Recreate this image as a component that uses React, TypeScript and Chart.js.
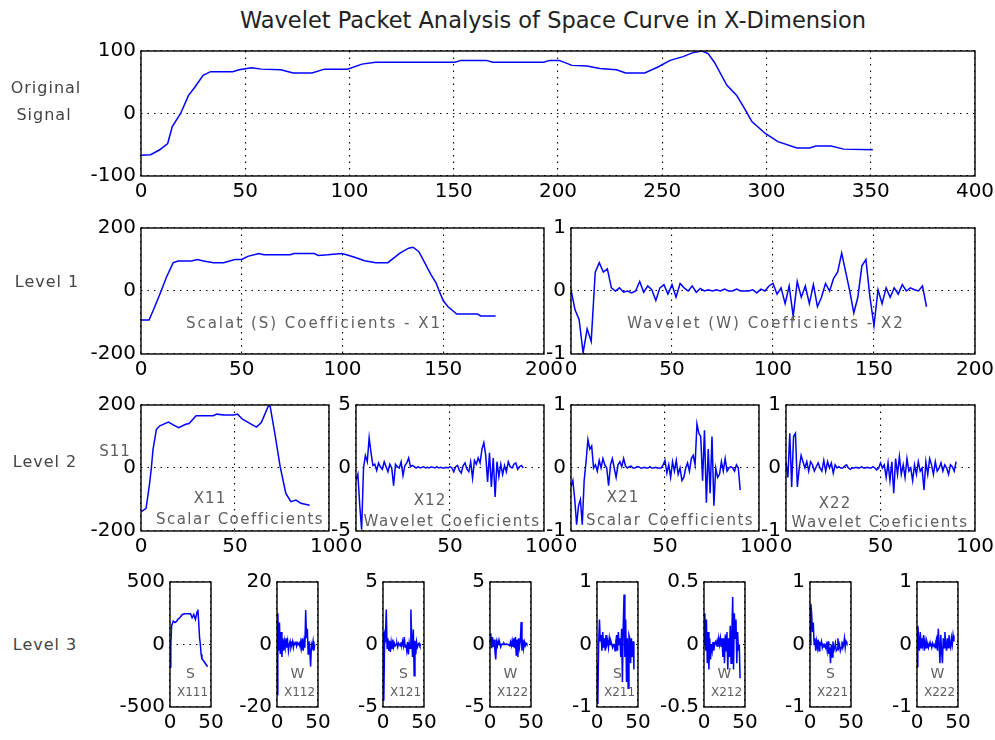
import React, { useEffect, useRef } from "react";
import { Chart, registerables } from "chart.js";
Chart.register(...registerables);

// ---------------- DATA ----------------
// Original signal (sample index, value)
const origX = [0, 4.6, 9, 12.8, 15, 19, 22.8, 25.8, 29.8, 33.4, 44, 47, 53, 57.8, 67, 73, 82, 88, 99, 106, 112.5, 150.5, 153.5, 165.6, 168.7, 193, 196, 200.6, 206.7, 214, 220, 228, 232.5, 241.6, 247.7, 253.8, 260, 264.4, 269, 272, 275, 281, 285.7, 290, 293, 299.4, 305.5, 314.6, 320.7, 323.7, 331, 337, 351];
const origY = [-67, -66, -58, -48, -21, 0, 29, 42, 61, 67, 67, 70, 73, 71, 70, 65, 65, 71, 71, 79, 82, 82, 85, 85, 82, 82, 85, 85, 77, 76, 72, 70, 65, 65, 74, 85, 91, 97, 100, 96, 82, 45, 29, 5, -13, -32, -45, -55, -55, -52, -52, -57, -58];

// Level 1 scalar coefficients X1
const s1X = [0, 4, 6.5, 10, 12.5, 16, 18.5, 25, 28, 31, 36, 41, 46.6, 50, 53, 58.5, 61, 74, 76, 86, 88, 92.7, 99.5, 102, 106, 111, 116.5, 122.5, 128.5, 132.8, 135, 137.9, 140.4, 143.9, 146.4, 148, 150, 152.4, 156.7, 167, 168.6, 176];
const s1Y = [-92, -92, -55, 0, 42, 90, 95, 95, 100, 95, 90, 90, 100, 100, 110, 119, 115, 115, 119, 119, 113, 115, 119, 115, 107, 96, 90, 90, 120, 136, 139, 125, 95, 52, 26, 0, -31, -50, -73, -73, -79, -79];

// Level 1 wavelet coefficients X2 (every 2nd sample)
const w1Step = 2;
const w1Y = [0.02, -0.3, -0.45, -0.98, -0.6, -0.8, 0.3, 0.45, 0.3, 0.35,
  0.05, 0.0, 0.05, -0.02, 0.0, -0.03, 0.0, 0.15, -0.02, 0.08,
  0.02, -0.15, 0.05, 0.1, -0.05, 0.1, -0.1, 0.12, 0.05, 0.0,
  0.08, -0.02, 0.04, 0.0, 0.02, 0.0, 0.02, 0.0, 0.03, 0.0,
  0.0, 0.03, 0.0, 0.0, 0.0, 0.02, -0.03, 0.03, 0.0, 0.08,
  0.12, -0.05, 0.05, -0.2, 0.08, -0.4, 0.15, -0.1, 0.08, -0.2,
  0.1, -0.25, -0.1, 0.12, 0.0, 0.2, 0.3, 0.6, 0.3, 0.0,
  -0.35, -0.1, 0.4, 0.5, -0.1, -0.55, 0.02, -0.2, 0.05, -0.1,
  0.05, -0.05, 0.1, 0.0, 0.05, 0.02, 0.0, 0.08, -0.25];

// Level 2
const x11X = [0, 2.7, 4.6, 5.5, 6.4, 8.2, 10, 14.6, 17.4, 20, 23.8, 25.6, 29.3, 38.5, 40.3, 44, 49.5, 51.3, 54, 58.6, 61.4, 64, 67.8, 68.7, 71.4, 74, 77, 79.7, 82.4, 85, 89.7];
const x11Y = [-139, -128, -48, 0, 59, 123, 134, 146, 136, 128, 139, 141, 166, 166, 171, 168, 168, 171, 155, 139, 130, 144, 198, 196, 102, 5, -80, -107, -102, -112, -118];
const x12Y = [-1, -0.5, -3, -4.9, 0, 1, 0.5, 2.4, 1.2, 0.2, 0.3, -0.2, 0.4, 0.1, -0.1, 0.5, 0.1, -0.3, 0.3, 0.0,
  -1.4, 0.3, 0.1, 0, 0.5, -0.6, 0.2, 0.4, 0.8, 0.1, 0.2, 0.1, 0.0, 0.1, 0.0, 0.05, 0.1, 0.0, 0.05, 0.0,
  0.1, 0.05, 0.0, 0.1, 0.0, 0.05, 0.0, 0.0, 0.05, 0.0, 0.1, 0.0, -0.3, 0.1, 0.2, -0.2, -0.4, 0.2, 0.4, -0.1,
  -0.3, 0.5, -0.8, 0.6, 0.3, 0.8, 0.4, 1.5, 2.0, 1.0, -1.1, 1.2, -1.5, 0.8, -2.3, 0.5, -0.7, 0.3, -0.5, 0.2,
  -0.3, 0.5, 0.1, 0.0, 0.3, 0.4, -0.1, 0.1, 0.2, 0.0];
const x21Y = [-0.3, -0.2, -0.5, -0.9, -0.6, -0.5, -0.9, -0.2, 0.1, 0.45, 0.3, 0.35, 0.0, 0.05, -0.05, 0.12, 0.0, 0.15, 0.05, 0.0,
  -0.28, 0.05, 0.15, 0.0, -0.15, 0.05, 0.1, 0.02, 0.15, 0.03, 0.0, 0.02, 0.03, 0.0, 0.0, 0.02, 0.02, 0.0, 0.0, 0.01,
  0.0, 0.0, 0.02, 0.0, 0.0, 0.01, 0.0, 0.0, 0.0, 0.05, 0.12, -0.08, 0.05, -0.15, 0.1, -0.05, 0.12, -0.1, 0.0, -0.2,
  -0.15, 0.0, 0.08, -0.05, 0.15, 0.2, 0.05, 0.7, 0.55, 0.5, -0.2, 0.6, -0.55, 0.3, -0.4, 0.5, -0.6, 0.0, -0.15, -0.1,
  0.1, -0.05, 0.15, -0.05, 0.0, 0.02, 0.0, -0.05, 0.05, 0.0, -0.35];
const x22Y = [0.1, -0.15, 0.55, -0.3, 0.5, 0.55, -0.3, 0.0, 0.2, 0.1, 0.0, 0.1, -0.05, 0.1, 0.05, -0.05, 0.02, 0.08, 0.0, -0.05,
  0.12, -0.05, 0.1, 0.0, 0.08, -0.08, 0.05, 0.0, 0.02, 0.0, 0.0, 0.03, 0.05, 0.0, -0.02, 0.0, 0.0, 0.01, 0.0, 0.0,
  0.02, 0.0, 0.0, 0.01, 0.0, 0.0, 0.02, 0.0, -0.03, 0.0, 0.08, 0.0, 0.05, -0.15, 0.08, -0.2, 0.1, -0.4, 0.15, -0.1,
  0.18, -0.1, 0.05, -0.15, 0.15, -0.05, 0.0, -0.2, 0.05, -0.1, 0.1, -0.05, 0.0, -0.35, 0.1, -0.1, 0.15, 0.05, -0.1, 0.1,
  -0.05, 0.0, 0.08, -0.05, 0.05, 0.0, -0.1, 0.05, 0.02, -0.05, 0.1];

// Level 3
const x111X = [0, 1, 2, 4, 6, 8, 10, 12, 15, 18, 22, 25, 27, 29, 31, 33, 34, 35, 36, 37, 38, 39, 41, 43, 45, 46];
const x111Y = [-180, 0, 150, 188, 175, 185, 205, 214, 240, 246, 246, 246, 214, 240, 201, 260, 280, 180, 60, 0, -80, -116, -130, -150, -170, -177];
const x112Y = [-16, 10, -2, 7, -3, 4, -4, 2, -2, 1, -1, 2, -1, 1, -2, 0, 1, -1, 0, 1, -1, 0.5, 0, 1, -0.5, 0.5, 0, 0.5, -0.5, 1, -1, 2, -2, 1, -1, 11, 2, 5, -3, 1, -2, -7, 0, -1, 1, -2, 0];
const x121Y = [1, -4.5, 0.8, 0.5, 2.8, -0.3, 0.5, -0.5, 0.3, -0.6, 0.2, -0.3, 0.4, -0.2, 0.1, -0.1, 0.0, 0.1, -0.2, 0.1, 0.0, -0.1, 0.1, 0.0, 0.3, -0.1, 0.6, -0.2, 0.0, -0.5, 0.2, -0.8, 0.1, -0.3, 2.8, 0.5, -1.0, 1.2, -2.5, 0.3, -0.8, 0.2, -0.2, 0.0, 0.1, -0.1, 0.0];
const x122Y = [0.2, 0.9, -0.3, 0.6, -0.2, 0.4, -0.5, -1.2, 0.2, -0.1, 0.3, 0.0, 0.1, -0.2, 0.0, 0.05, 0.0, 0.1, 0.0, 0.0, 0.05, 0.0, 0.0, 0.0, -0.1, 0.2, -0.1, 0.3, -0.2, 0.5, -0.3, 0.6, -0.9, 0.4, -1.0, 0.5, -0.2, 0.3, 1.8, -0.5, 0.4, -0.3, 0.2, -0.1, 0.1, 0.0];
const x211Y = [-0.3, -0.95, 0.0, 0.4, 0.05, 0.15, -0.1, 0.2, -0.05, 0.1, -0.1, 0.15, 0.0, 0.05, -0.05, 0.1, 0.0, 0.05, 0.0, -0.05, 0.0, 0.0, -0.1, 0.05, 0.15, -0.1, 0.2, 0.0, 0.1, -0.2, 0.25, -0.6, 0.3, 0.8, -0.2, 0.4, -0.6, 0.1, -0.7, 0.15, 0.1, -0.3, 0.1, -0.2, 0.05, -0.4];
const x212Y = [0.0, 0.25, -0.05, 0.2, -0.15, 0.1, -0.2, 0.05, -0.12, 0.0, -0.05, 0.02, -0.05, 0.0, 0.02, 0.0, 0.03, -0.02, 0.05, 0.0, 0.05, -0.02, 0.05, -0.1, 0.05, -0.15, 0.08, -0.05, 0.1, -0.2, 0.05, -0.1, 0.15, -0.15, 0.1, 0.38, -0.2, 0.25, 0.05, 0.2, -0.15, 0.1, -0.05, 0.0, -0.27];
const x221Y = [0.0, 0.65, 0.5, 0.2, 0.35, 0.0, 0.1, -0.1, 0.05, -0.05, 0.08, -0.1, 0.02, 0.0, 0.05, -0.05, 0.0, -0.02, 0.0, -0.05, 0.0, -0.1, 0.05, -0.15, -0.05, -0.3, 0.0, -0.2, 0.05, -0.1, -0.05, 0.02, -0.1, -0.08, 0.1, -0.05, 0.0, -0.1, -0.05, 0.05, -0.05, 0.0, 0.1, -0.05, 0.05, 0.02];
const x222Y = [-0.35, 0.3, 0.1, -0.1, 0.2, -0.05, 0.1, 0.0, 0.15, -0.1, 0.05, -0.05, 0.05, 0.0, -0.05, 0.02, -0.02, 0.0, -0.05, 0.02, -0.02, 0.0, -0.05, 0.05, 0.1, -0.1, 0.25, 0.0, -0.3, 0.15, -0.1, -0.3, 0.1, -0.05, 0.2, 0.0, -0.1, 0.1, -0.05, 0.15, 0.0, -0.05, 0.1, 0.0, 0.15, 0.05];

const idx = (arr: number[], step = 1) => arr.map((_, i) => i * step);

// ---------------- LAYOUT ----------------
const PL = 70, PR = 30, PT = 16, PB = 36;
const TICK_FONT = '"DejaVu Sans", sans-serif';
const TICK_SIZE = 20;

type Spec = { box: [number, number, number, number]; xMax: number; xStep: number; yMax: number; xs: number[]; ys: number[] };

const L3_LEFTS = [170, 277, 383, 490, 597, 704, 810, 917];
const L3_W = 41;
const l3 = (i: number, yMax: number, xs: number[], ys: number[]): Spec => ({
  box: [L3_LEFTS[i], 581, L3_LEFTS[i] + L3_W, 707], xMax: 50, xStep: 50, yMax, xs, ys,
});

const SPECS: Spec[] = [
  { box: [141, 50, 975, 176], xMax: 400, xStep: 50, yMax: 100, xs: origX, ys: origY },
  { box: [141, 227, 544, 354], xMax: 200, xStep: 50, yMax: 200, xs: s1X, ys: s1Y },
  { box: [571, 227, 975, 354], xMax: 200, xStep: 50, yMax: 1, xs: idx(w1Y, w1Step), ys: w1Y },
  { box: [141, 404, 329, 531], xMax: 100, xStep: 50, yMax: 200, xs: x11X, ys: x11Y },
  { box: [356, 404, 544, 531], xMax: 100, xStep: 50, yMax: 5, xs: idx(x12Y), ys: x12Y },
  { box: [571, 404, 759, 531], xMax: 100, xStep: 50, yMax: 1, xs: idx(x21Y), ys: x21Y },
  { box: [786, 404, 975, 531], xMax: 100, xStep: 50, yMax: 1, xs: idx(x22Y), ys: x22Y },
  l3(0, 500, x111X, x111Y),
  l3(1, 20, idx(x112Y), x112Y),
  l3(2, 5, idx(x121Y), x121Y),
  l3(3, 5, idx(x122Y), x122Y),
  l3(4, 1, idx(x211Y), x211Y),
  l3(5, 0.5, idx(x212Y), x212Y),
  l3(6, 1, idx(x221Y), x221Y),
  l3(7, 1, idx(x222Y), x222Y),
];

type Lbl = { text: string; cx: number; cy: number; size: number; color: string; ls?: number };
const GRAY = "#5e5e5e";
const SIDE = "#444";
const LABELS: Lbl[] = [
  { text: "Wavelet Packet Analysis of Space Curve in X-Dimension", cx: 553, cy: 20, size: 22.5, color: "#222" },
  { text: "Original", cx: 46, cy: 88, size: 16, color: SIDE, ls: 1 },
  { text: "Signal", cx: 44, cy: 115, size: 16, color: SIDE, ls: 1 },
  { text: "Level 1", cx: 47, cy: 282, size: 16, color: SIDE, ls: 1 },
  { text: "Level 2", cx: 45, cy: 462, size: 16, color: SIDE, ls: 1 },
  { text: "Level 3", cx: 45, cy: 645, size: 16, color: SIDE, ls: 1 },
  { text: "Scalat (S) Coefficients - X1", cx: 314, cy: 323, size: 15, color: GRAY, ls: 2 },
  { text: "Wavelet (W) Coefficients - X2", cx: 766, cy: 323, size: 15, color: GRAY, ls: 2 },
  { text: "S11", cx: 115, cy: 451, size: 15, color: GRAY, ls: 1 },
  { text: "X11", cx: 210, cy: 498, size: 15, color: GRAY, ls: 1 },
  { text: "Scalar Coefficients", cx: 240, cy: 519, size: 15, color: GRAY, ls: 1.5 },
  { text: "X12", cx: 430, cy: 500, size: 15, color: GRAY, ls: 1 },
  { text: "Wavelet Coeficients", cx: 452, cy: 521, size: 15, color: GRAY, ls: 1.5 },
  { text: "X21", cx: 623, cy: 497, size: 15, color: GRAY, ls: 1 },
  { text: "Scalar Coefficients", cx: 670, cy: 520, size: 15, color: GRAY, ls: 1.5 },
  { text: "X22", cx: 835, cy: 503, size: 15, color: GRAY, ls: 1 },
  { text: "Wavelet Coeficients", cx: 880, cy: 522, size: 15, color: GRAY, ls: 1.5 },
];
const L3_NAMES = ["X111", "X112", "X121", "X122", "X211", "X212", "X221", "X222"];
const L3_TYPES = ["S", "W", "S", "W", "S", "W", "S", "W"];
L3_LEFTS.forEach((l, i) => {
  LABELS.push({ text: L3_TYPES[i], cx: l + L3_W / 2, cy: 673, size: 14, color: GRAY });
  LABELS.push({ text: L3_NAMES[i], cx: l + L3_W / 2 + 2, cy: 692, size: 12, color: GRAY });
});

const boxPlugin = {
  id: "matlabBox",
  afterDraw(c: any) {
    const { left, top, right, bottom } = c.chartArea;
    const ctx = c.ctx;
    ctx.save();
    ctx.strokeStyle = "#000";
    ctx.lineWidth = 1.4;
    ctx.strokeRect(left, top, right - left, bottom - top);
    ctx.restore();
  },
};

function Panel({ spec }: { spec: Spec }) {
  const ref = useRef<HTMLCanvasElement>(null);
  const [l, t, r, b] = spec.box;
  const w = r - l + PL + PR;
  const h = b - t + PT + PB;
  useEffect(() => {
    const tickFont = { family: TICK_FONT, size: TICK_SIZE };
    const grid = { color: "#000", lineWidth: 1.1, drawTicks: false };
    const border = { display: false, dash: [1.5, 5] };
    const chart = new Chart(ref.current as HTMLCanvasElement, {
      type: "line",
      data: {
        datasets: [{
          data: spec.xs.map((x, i) => ({ x, y: spec.ys[i] })),
          borderColor: "#0000ff", borderWidth: 1.5, pointRadius: 0, tension: 0, fill: false,
        }],
      },
      options: {
        animation: false, responsive: false, events: [],
        layout: { padding: { top: PT, right: PR, left: 0, bottom: 0 } },
        plugins: { legend: { display: false }, tooltip: { enabled: false }, title: { display: false } },
        scales: {
          x: {
            type: "linear", min: 0, max: spec.xMax,
            ticks: { stepSize: spec.xStep, autoSkip: false, maxRotation: 0, padding: 4, color: "#000", font: tickFont },
            grid, border,
            afterFit: (s: any) => { s.height = PB; },
          },
          y: {
            type: "linear", min: -spec.yMax, max: spec.yMax,
            ticks: { stepSize: spec.yMax, padding: 5, color: "#000", font: tickFont },
            grid, border,
            afterFit: (s: any) => { s.width = PL; },
          },
        },
      } as any,
      plugins: [boxPlugin],
    });
    return () => chart.destroy();
  }, []);
  return (
    <canvas ref={ref} width={w} height={h}
      style={{ position: "absolute", left: l - PL, top: t - PT, width: w, height: h }} />
  );
}

export default function App() {
  return (
    <div style={{ position: "fixed", left: 0, top: 0, width: 995, height: 740, background: "#fff", overflow: "hidden" }}>
      {SPECS.map((s, i) => <Panel key={i} spec={s} />)}
      {LABELS.map((lb, i) => (
        <div key={"l" + i} style={{
          position: "absolute", left: lb.cx, top: lb.cy, transform: "translate(-50%, -50%)",
          fontFamily: TICK_FONT, fontSize: lb.size, color: lb.color, whiteSpace: "nowrap",
          letterSpacing: lb.ls ? lb.ls + "px" : undefined, lineHeight: 1,
        }}>{lb.text}</div>
      ))}
    </div>
  );
}
